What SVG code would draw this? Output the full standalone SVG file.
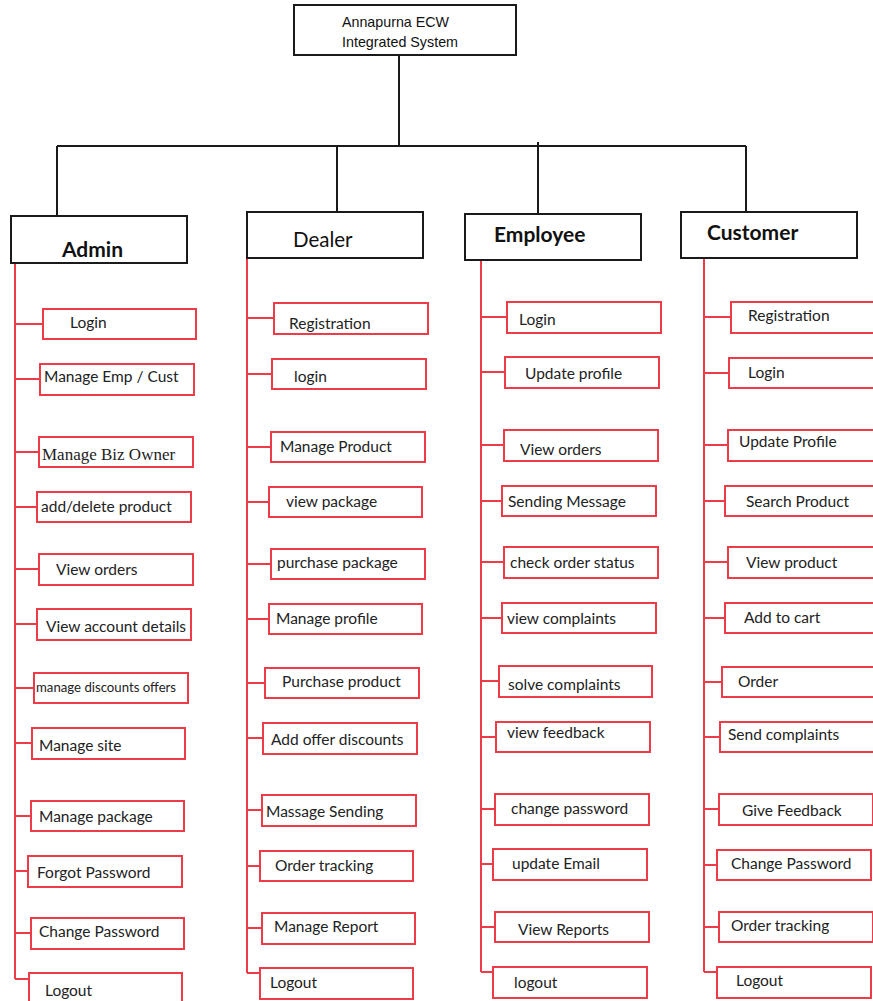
<svg xmlns="http://www.w3.org/2000/svg" width="873" height="1001" viewBox="0 0 873 1001">
<style>
.bk{fill:#fff;stroke:#1a1a1a;stroke-width:2}
.rb{fill:#fff;stroke:#ef3b47;stroke-width:2}
.bl{stroke:#1a1a1a;stroke-width:2;fill:none}
.rl{stroke:#ef3b47;stroke-width:2;fill:none}
.t{font-family:Lato,"Liberation Sans",sans-serif;font-size:15.5px;fill:#222}
.sm{font-size:13.2px}
.sf{font-family:"Liberation Serif",serif;font-size:17px}
.h{font-family:Lato,"Liberation Sans",sans-serif;font-size:21px;font-weight:bold;fill:#111}
.hr{font-weight:normal;font-size:20.5px}
.ti{font-family:"Liberation Sans",sans-serif;font-size:15px;fill:#111}
</style>
<rect x="0" y="0" width="873" height="1001" fill="#fff"/>
<g id="connectors">
<path class="bl" d="M399 56V146M57 146H746M57 146V216M337 146V212M538 142V214M746 146V212"/>
<path class="rl" d="M15 263V979M247 258V973M481 260V972M704 258V972"/>
<path class="rl" d="M15 324H43M15 379H40M15 452H39M15 507H37M15 569H39M15 624H37M15 688H34M15 743H32M15 816H31M15 871H28M15 933H31M15 979H29"/>
<path class="rl" d="M247 318H274M247 374H272M247 447H271M247 502H269M247 564H271M247 619H269M247 683H265M247 738H263M247 810H262M247 866H260M247 928H262M247 973H260"/>
<path class="rl" d="M481 317H507M481 372H505M481 445H504M481 501H502M481 562H504M481 618H502M481 681H499M481 737H496M481 809H495M481 864H493M481 927H495M481 972H493"/>
<path class="rl" d="M704 317H731M704 373H729M704 445H728M704 501H725M704 562H728M704 618H725M704 682H722M704 737H720M704 809H719M704 865H717M704 927H719M704 972H717"/>
</g>
<g id="root"><rect class="bk" x="294" y="5" width="222" height="50"/><text class="ti" x="342" y="27" textLength="107" lengthAdjust="spacingAndGlyphs">Annapurna ECW</text><text class="ti" x="342" y="47" textLength="116" lengthAdjust="spacingAndGlyphs">Integrated System</text></g>
<g id="admin"><rect class="bk" x="11" y="216" width="176" height="47"/><text class="h" x="62" y="257">Admin</text></g>
<g id="dealer"><rect class="bk" x="247" y="212" width="176" height="46"/><text class="h hr" x="293" y="247">Dealer</text></g>
<g id="employee"><rect class="bk" x="465" y="214" width="176" height="46"/><text class="h" x="494" y="242">Employee</text></g>
<g id="customer"><rect class="bk" x="681" y="212" width="176" height="46"/><text class="h" x="707" y="240">Customer</text></g>

<g id="a1"><rect class="rb" x="43" y="309" width="153" height="30"/><text class="t" x="70" y="328">Login</text></g>
<g id="a2"><rect class="rb" x="40" y="364" width="154" height="31"/><text class="t" x="44" y="382">Manage Emp / Cust</text></g>
<g id="a3"><rect class="rb" x="39" y="437" width="154" height="30"/><text class="t sf" x="42" y="460">Manage Biz Owner</text></g>
<g id="a4"><rect class="rb" x="37" y="492" width="154" height="30"/><text class="t" x="41" y="512">add/delete product</text></g>
<g id="a5"><rect class="rb" x="39" y="554" width="154" height="31"/><text class="t" x="56" y="575">View orders</text></g>
<g id="a6"><rect class="rb" x="37" y="609" width="154" height="31"/><text class="t" x="46" y="632">View account details</text></g>
<g id="a7"><rect class="rb" x="34" y="673" width="154" height="30"/><text class="t sm" x="36" y="692">manage discounts offers</text></g>
<g id="a8"><rect class="rb" x="32" y="728" width="153" height="31"/><text class="t" x="39" y="751">Manage site</text></g>
<g id="a9"><rect class="rb" x="31" y="801" width="153" height="30"/><text class="t" x="39" y="822">Manage package</text></g>
<g id="a10"><rect class="rb" x="28" y="856" width="154" height="31"/><text class="t" x="37" y="878">Forgot Password</text></g>
<g id="a11"><rect class="rb" x="31" y="918" width="153" height="31"/><text class="t" x="39" y="937">Change Password</text></g>
<g id="a12"><rect class="rb" x="29" y="973" width="153" height="31"/><text class="t" x="45" y="996">Logout</text></g>

<g id="d1"><rect class="rb" x="274" y="303" width="154" height="31"/><text class="t" x="289" y="329">Registration</text></g>
<g id="d2"><rect class="rb" x="272" y="359" width="154" height="30"/><text class="t" x="294" y="382">login</text></g>
<g id="d3"><rect class="rb" x="271" y="432" width="154" height="30"/><text class="t" x="280" y="452">Manage Product</text></g>
<g id="d4"><rect class="rb" x="269" y="487" width="153" height="30"/><text class="t" x="286" y="507">view package</text></g>
<g id="d5"><rect class="rb" x="271" y="549" width="154" height="30"/><text class="t" x="277" y="568">purchase package</text></g>
<g id="d6"><rect class="rb" x="269" y="604" width="153" height="30"/><text class="t" x="276" y="624">Manage profile</text></g>
<g id="d7"><rect class="rb" x="265" y="668" width="154" height="30"/><text class="t" x="282" y="687">Purchase product</text></g>
<g id="d8"><rect class="rb" x="263" y="723" width="154" height="31"/><text class="t" x="271" y="745">Add offer discounts</text></g>
<g id="d9"><rect class="rb" x="262" y="795" width="154" height="31"/><text class="t" x="266" y="817">Massage Sending</text></g>
<g id="d10"><rect class="rb" x="260" y="851" width="153" height="30"/><text class="t" x="275" y="871">Order tracking</text></g>
<g id="d11"><rect class="rb" x="262" y="913" width="153" height="31"/><text class="t" x="274" y="932">Manage Report</text></g>
<g id="d12"><rect class="rb" x="260" y="968" width="153" height="31"/><text class="t" x="270" y="988">Logout</text></g>

<g id="e1"><rect class="rb" x="507" y="302" width="154" height="31"/><text class="t" x="519" y="325">Login</text></g>
<g id="e2"><rect class="rb" x="505" y="357" width="154" height="31"/><text class="t" x="525" y="379">Update profile</text></g>
<g id="e3"><rect class="rb" x="504" y="430" width="154" height="31"/><text class="t" x="520" y="455">View orders</text></g>
<g id="e4"><rect class="rb" x="502" y="486" width="154" height="30"/><text class="t" x="508" y="507">Sending Message</text></g>
<g id="e5"><rect class="rb" x="504" y="547" width="154" height="31"/><text class="t" x="510" y="568">check order status</text></g>
<g id="e6"><rect class="rb" x="502" y="603" width="154" height="30"/><text class="t" x="507" y="624">view complaints</text></g>
<g id="e7"><rect class="rb" x="499" y="666" width="153" height="31"/><text class="t" x="508" y="690">solve complaints</text></g>
<g id="e8"><rect class="rb" x="496" y="722" width="154" height="30"/><text class="t" x="507" y="738">view feedback</text></g>
<g id="e9"><rect class="rb" x="495" y="794" width="154" height="31"/><text class="t" x="511" y="814">change password</text></g>
<g id="e10"><rect class="rb" x="493" y="849" width="154" height="31"/><text class="t" x="512" y="869">update Email</text></g>
<g id="e11"><rect class="rb" x="495" y="912" width="154" height="30"/><text class="t" x="518" y="935">View Reports</text></g>
<g id="e12"><rect class="rb" x="493" y="967" width="154" height="31"/><text class="t" x="514" y="988">logout</text></g>

<g id="c1"><rect class="rb" x="731" y="302" width="154" height="31"/><text class="t" x="748" y="321">Registration</text></g>
<g id="c2"><rect class="rb" x="729" y="358" width="154" height="30"/><text class="t" x="748" y="378">Login</text></g>
<g id="c3"><rect class="rb" x="728" y="430" width="154" height="31"/><text class="t" x="739" y="447">Update Profile</text></g>
<g id="c4"><rect class="rb" x="725" y="486" width="154" height="30"/><text class="t" x="746" y="507">Search Product</text></g>
<g id="c5"><rect class="rb" x="728" y="547" width="154" height="31"/><text class="t" x="746" y="568">View product</text></g>
<g id="c6"><rect class="rb" x="725" y="603" width="154" height="30"/><text class="t" x="744" y="623">Add to cart</text></g>
<g id="c7"><rect class="rb" x="722" y="667" width="154" height="30"/><text class="t" x="738" y="687">Order</text></g>
<g id="c8"><rect class="rb" x="720" y="722" width="154" height="30"/><text class="t" x="728" y="740">Send complaints</text></g>
<g id="c9"><rect class="rb" x="719" y="794" width="154" height="31"/><text class="t" x="742" y="816">Give Feedback</text></g>
<g id="c10"><rect class="rb" x="717" y="850" width="154" height="30"/><text class="t" x="731" y="869">Change Password</text></g>
<g id="c11"><rect class="rb" x="719" y="912" width="154" height="30"/><text class="t" x="731" y="931">Order tracking</text></g>
<g id="c12"><rect class="rb" x="717" y="967" width="154" height="31"/><text class="t" x="736" y="986">Logout</text></g>
</svg>
